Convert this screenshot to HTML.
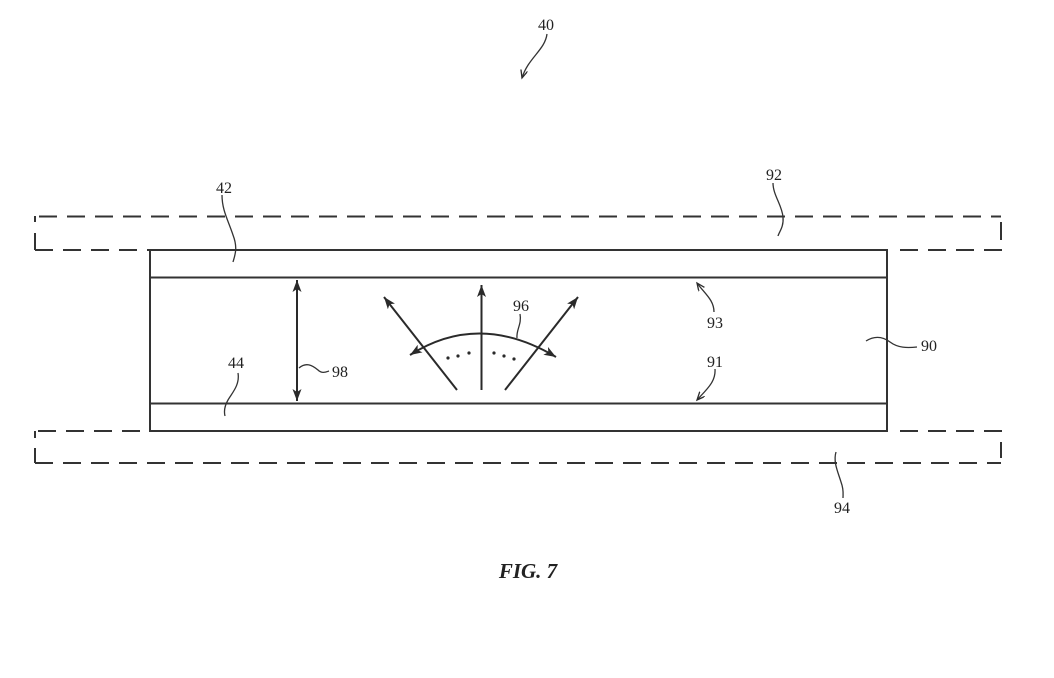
<!DOCTYPE html>
<html>
<head>
<meta charset="utf-8">
<style>
html,body{margin:0;padding:0;background:#fff;}
svg{display:block;}
text{font-family:"Liberation Serif",serif;fill:#222;}
</style>
</head>
<body>
<svg width="1054" height="678" viewBox="0 0 1054 678" xmlns="http://www.w3.org/2000/svg">
<defs>
<marker id="ah" markerUnits="userSpaceOnUse" markerWidth="14" markerHeight="10" refX="12" refY="4.5" orient="auto-start-reverse">
<path d="M0,0 L12,4.5 L0,9 L3,4.5 z" fill="#2a2a2a"/>
</marker>
<marker id="sh" markerUnits="userSpaceOnUse" markerWidth="10" markerHeight="8" refX="8" refY="3.5" orient="auto">
<path d="M0,0 L8,3.5 L0,7 M8,3.5" fill="none" stroke="#2a2a2a" stroke-width="1.3"/>
</marker>
</defs>

<g stroke="#333" stroke-width="2" fill="none">
<!-- top dashed rect (92) -->
<line x1="35" y1="216.5" x2="1001" y2="216.5" stroke-dasharray="18,10" stroke-dashoffset="-4"/>
<line x1="35" y1="216" x2="35" y2="222"/>
<line x1="35" y1="233" x2="35" y2="250"/>
<line x1="1001" y1="222" x2="1001" y2="240"/>
<line x1="35" y1="250" x2="150" y2="250" stroke-dasharray="18,10"/>
<line x1="900" y1="250" x2="1002" y2="250" stroke-dasharray="18,10"/>
<!-- bottom dashed rect (94) -->
<line x1="35" y1="463" x2="1001" y2="463" stroke-dasharray="18,10"/>
<line x1="35" y1="431" x2="35" y2="438"/>
<line x1="35" y1="448" x2="35" y2="463"/>
<line x1="1001" y1="442" x2="1001" y2="458"/>
<line x1="35" y1="431" x2="150" y2="431" stroke-dasharray="18,10" stroke-dashoffset="-3"/>
<line x1="900" y1="431" x2="1002" y2="431" stroke-dasharray="18,10"/>
<!-- main box -->
<rect x="150" y="250" width="737" height="181"/>
<line x1="150" y1="277.5" x2="887" y2="277.5"/>
<line x1="150" y1="403.5" x2="887" y2="403.5"/>
</g>

<!-- arrow 98 -->
<g stroke="#2a2a2a" stroke-width="2" fill="none">
<line x1="297" y1="280" x2="297" y2="401" marker-start="url(#ah)" marker-end="url(#ah)"/>
<!-- light arrows -->
<line x1="457" y1="390" x2="384" y2="297" marker-end="url(#ah)"/>
<line x1="481.5" y1="390" x2="481.5" y2="285" marker-end="url(#ah)"/>
<line x1="505" y1="390" x2="578" y2="297" marker-end="url(#ah)"/>
<path d="M410,355 Q479,311 556,357" marker-start="url(#ah)" marker-end="url(#ah)"/>
</g>
<g fill="#2a2a2a">
<circle cx="448" cy="358" r="1.6"/><circle cx="458" cy="356" r="1.6"/><circle cx="469" cy="353" r="1.6"/>
<circle cx="494" cy="353" r="1.6"/><circle cx="504" cy="356" r="1.6"/><circle cx="514" cy="359" r="1.6"/>
</g>

<!-- leaders -->
<g stroke="#333" stroke-width="1.3" fill="none">
<path d="M547,34 C545,50 528,58 522,78" marker-end="url(#sh)"/>
<path d="M222,195 C222,210 228,220 233,235 C238,248 235,255 233,262"/>
<path d="M238,373 C240,385 232,393 228,400 C224,407 224,412 225,416"/>
<path d="M299,368 C306,362 312,365 318,370 C322,374 326,372 329,371"/>
<path d="M520,314 C522,324 516,330 517,338"/>
<path d="M773,183 C773,195 782,205 783,217 C784,227 779,232 778,236"/>
<path d="M714,312 C714,300 705,294 697,283" marker-end="url(#sh)"/>
<path d="M715,369 C716,382 706,390 697,400" marker-end="url(#sh)"/>
<path d="M866,341 C874,336 882,336 890,342 C898,348 907,348 917,347"/>
<path d="M836,452 C833,462 838,472 841,482 C844,490 843,494 843,498"/>
</g>

<!-- labels -->
<g font-size="16">
<text x="546" y="30" text-anchor="middle">40</text>
<text x="224" y="193" text-anchor="middle">42</text>
<text x="236" y="368" text-anchor="middle">44</text>
<text x="340" y="377" text-anchor="middle">98</text>
<text x="521" y="311" text-anchor="middle">96</text>
<text x="774" y="180" text-anchor="middle">92</text>
<text x="715" y="328" text-anchor="middle">93</text>
<text x="715" y="367" text-anchor="middle">91</text>
<text x="929" y="351" text-anchor="middle">90</text>
<text x="842" y="513" text-anchor="middle">94</text>
</g>
<text x="528" y="578" text-anchor="middle" font-size="21" font-weight="bold" font-style="italic">FIG. 7</text>
</svg>
</body>
</html>
